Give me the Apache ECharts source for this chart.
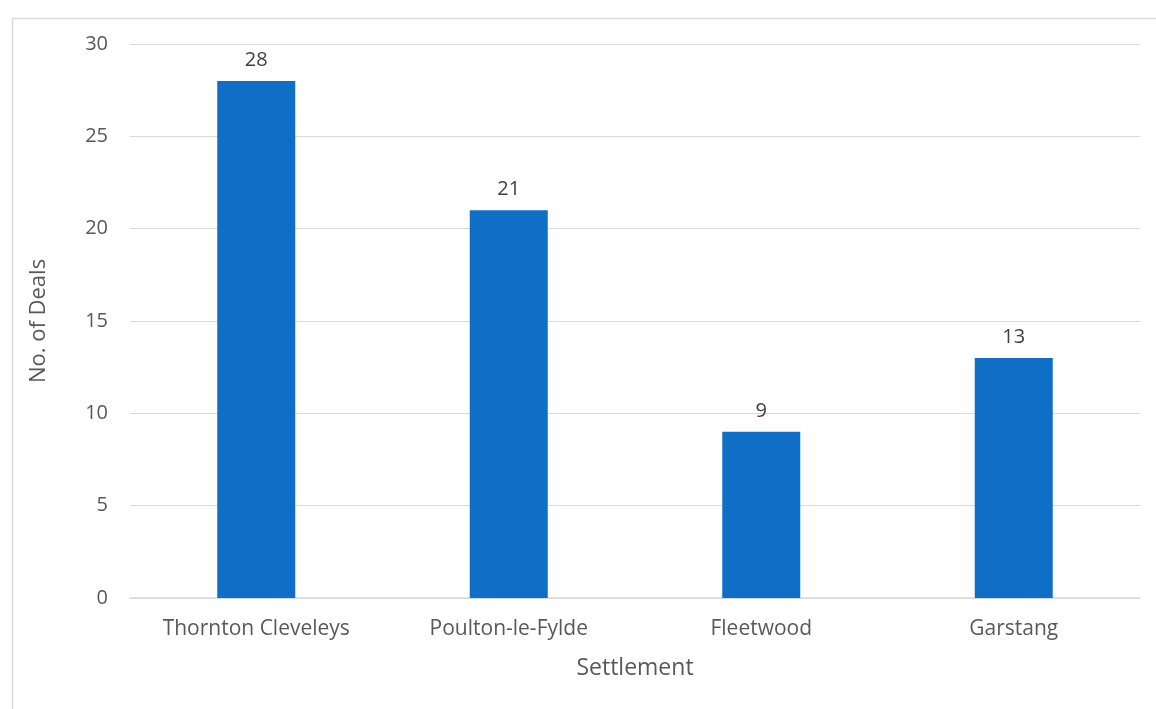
<!DOCTYPE html>
<html>
<head>
<meta charset="utf-8">
<script src="https://cdn.jsdelivr.net/npm/echarts@6/dist/echarts.min.js"></script>
<style>
  html, body { margin: 0; padding: 0; background: #fff; }
  #chart { width: 1156px; height: 709px; }
</style>
</head>
<body>
<div id="chart"></div>
<script>
const settlements = ['Thornton Cleveleys', 'Poulton-le-Fylde', 'Fleetwood', 'Garstang'];
const deals = [28, 21, 9, 13];
const yTicks = { min: 0, max: 30, interval: 5 };

const colorSets = {
    text: '#595959',
    line: '#d9d9d9',
    bar: '#0f6fc6'
};
const font = '"Open Sans", "Noto Sans", sans-serif';

const chart = echarts.init(document.getElementById('chart'));
chart.setOption({
    animation: false,
    graphic: [{
        type: 'rect',
        left: 10, top: 16,
        shape: { width: 1300, height: 900 },
        style: { fill: 'none', stroke: colorSets.line, lineWidth: 1.5 },
        silent: true
    }],
    grid: { left: 130, right: 16, top: 44, bottom: 111 },
    xAxis: {
        type: 'category',
        data: settlements,
        name: 'Settlement',
        nameLocation: 'middle',
        nameGap: 59,
        nameTextStyle: { color: colorSets.text, fontSize: 23, fontFamily: font },
        axisLine: { show: true, lineStyle: { color: colorSets.line, width: 1.5 } },
        axisTick: { show: false },
        axisLabel: { color: colorSets.text, fontSize: 21, fontFamily: font, margin: 21 }
    },
    yAxis: {
        type: 'value',
        min: yTicks.min,
        max: yTicks.max,
        interval: yTicks.interval,
        name: 'No. of Deals',
        nameLocation: 'middle',
        nameGap: 80,
        nameTextStyle: { color: colorSets.text, fontSize: 22, fontFamily: font },
        axisLine: { show: false },
        axisTick: { show: false },
        splitLine: { lineStyle: { color: colorSets.line, width: 1.2 } },
        axisLabel: { color: colorSets.text, fontSize: 20, fontFamily: font, margin: 22 }
    },
    series: [{
        type: 'bar',
        data: deals,
        barWidth: 78,
        itemStyle: { color: colorSets.bar },
        label: {
            show: true,
            position: 'top',
            distance: 11,
            color: '#404040',
            fontSize: 20,
            fontFamily: font
        }
    }]
});
</script>
</body>
</html>
